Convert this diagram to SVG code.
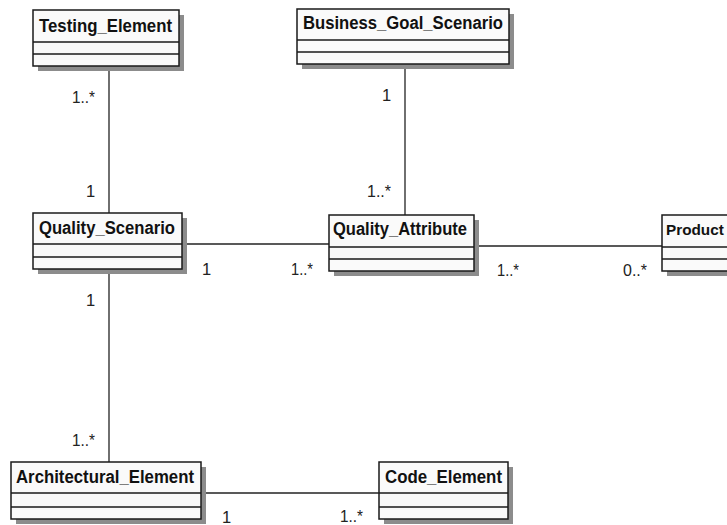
<svg xmlns="http://www.w3.org/2000/svg" width="727" height="525" viewBox="0 0 727 525">
<style>
.sh{fill:#8c8c8c}
.bx{fill:#fafafa;stroke:#1a1a1a;stroke-width:1.5}
.dv{stroke:#1a1a1a;stroke-width:1.5}
.t{font-family:"Liberation Sans",Arial,sans-serif;font-weight:bold;font-size:17.5px;fill:#111}
.m{font-family:"Liberation Sans",Arial,sans-serif;font-size:16.5px;fill:#222}
.c{stroke:#222;stroke-width:1.3;fill:none}
</style>
<rect width="727" height="525" fill="#ffffff"/>
<g id="connectors">
<line class="c" x1="109" y1="66" x2="109" y2="213"/>
<line class="c" x1="405" y1="64" x2="405" y2="215"/>
<line class="c" x1="182" y1="244" x2="329" y2="244"/>
<line class="c" x1="474" y1="246" x2="662" y2="246"/>
<line class="c" x1="109" y1="269" x2="109" y2="462"/>
<line class="c" x1="201" y1="493" x2="379" y2="493"/>
<text class="m" x="72" y="103" textLength="23" lengthAdjust="spacingAndGlyphs">1..*</text>
<text class="m" x="86" y="197">1</text>
<text class="m" x="382" y="101">1</text>
<text class="m" x="367" y="197" textLength="24" lengthAdjust="spacingAndGlyphs">1..*</text>
<text class="m" x="202" y="275">1</text>
<text class="m" x="291" y="275" textLength="22" lengthAdjust="spacingAndGlyphs">1..*</text>
<text class="m" x="497" y="276" textLength="22" lengthAdjust="spacingAndGlyphs">1..*</text>
<text class="m" x="623" y="276" textLength="24" lengthAdjust="spacingAndGlyphs">0..*</text>
<text class="m" x="86" y="306">1</text>
<text class="m" x="72" y="446" textLength="23" lengthAdjust="spacingAndGlyphs">1..*</text>
<text class="m" x="222" y="523">1</text>
<text class="m" x="340" y="522" textLength="23" lengthAdjust="spacingAndGlyphs">1..*</text>
</g>
<g id="Testing_Element">
<rect class="sh" x="38" y="15" width="146" height="56"/>
<rect class="bx" x="33" y="10" width="146" height="56"/>
<line class="dv" x1="33" y1="42" x2="179" y2="42"/>
<line class="dv" x1="33" y1="54" x2="179" y2="54"/>
<text class="t" x="39" y="32" textLength="133" lengthAdjust="spacingAndGlyphs">Testing_Element</text>
</g>
<g id="Business_Goal_Scenario">
<rect class="sh" x="302" y="14" width="212" height="55"/>
<rect class="bx" x="297" y="9" width="212" height="55"/>
<line class="dv" x1="297" y1="40" x2="509" y2="40"/>
<line class="dv" x1="297" y1="52" x2="509" y2="52"/>
<text class="t" x="303" y="29" textLength="200" lengthAdjust="spacingAndGlyphs">Business_Goal_Scenario</text>
</g>
<g id="Quality_Scenario">
<rect class="sh" x="38" y="218" width="149" height="56"/>
<rect class="bx" x="33" y="213" width="149" height="56"/>
<line class="dv" x1="33" y1="244" x2="182" y2="244"/>
<line class="dv" x1="33" y1="257" x2="182" y2="257"/>
<text class="t" x="39" y="234" textLength="136" lengthAdjust="spacingAndGlyphs">Quality_Scenario</text>
</g>
<g id="Quality_Attribute">
<rect class="sh" x="334" y="220" width="145" height="56"/>
<rect class="bx" x="329" y="215" width="145" height="56"/>
<line class="dv" x1="329" y1="247" x2="474" y2="247"/>
<line class="dv" x1="329" y1="259" x2="474" y2="259"/>
<text class="t" x="333" y="235" textLength="134" lengthAdjust="spacingAndGlyphs">Quality_Attribute</text>
</g>
<g id="Product">
<rect class="sh" x="667" y="220" width="100" height="56"/>
<rect class="bx" x="662" y="215" width="100" height="56"/>
<line class="dv" x1="662" y1="247" x2="762" y2="247"/>
<line class="dv" x1="662" y1="259" x2="762" y2="259"/>
<text class="t" x="666" y="235" style="font-size:15.3px">Product</text>
</g>
<g id="Architectural_Element">
<rect class="sh" x="16" y="467" width="190" height="57"/>
<rect class="bx" x="11" y="462" width="190" height="57"/>
<line class="dv" x1="11" y1="493" x2="201" y2="493"/>
<line class="dv" x1="11" y1="507" x2="201" y2="507"/>
<text class="t" x="16" y="483" textLength="178" lengthAdjust="spacingAndGlyphs">Architectural_Element</text>
</g>
<g id="Code_Element">
<rect class="sh" x="384" y="467" width="129" height="57"/>
<rect class="bx" x="379" y="462" width="129" height="57"/>
<line class="dv" x1="379" y1="493" x2="508" y2="493"/>
<line class="dv" x1="379" y1="507" x2="508" y2="507"/>
<text class="t" x="385" y="483" textLength="117" lengthAdjust="spacingAndGlyphs">Code_Element</text>
</g>
</svg>
